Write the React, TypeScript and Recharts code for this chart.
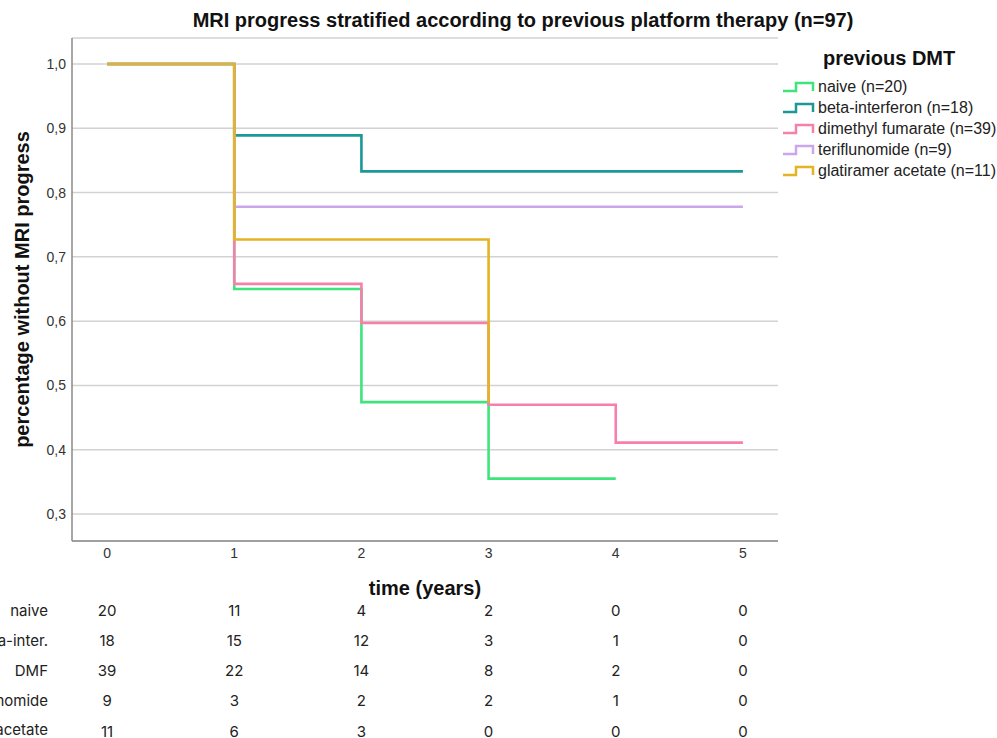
import React from 'react';
import { LineChart, Line, XAxis, YAxis, CartesianGrid, ComposedChart, Scatter } from 'recharts';

const seriesNames = ['naive (n=20)', 'beta-interferon (n=18)', 'dimethyl fumarate (n=39)', 'teriflunomide (n=9)', 'glatiramer acetate (n=11)'];
const seriesColors = ['#3fe47c', '#1c9898', '#f77fab', '#cca6ea', '#e3b424'];

const naiveTimes = [0, 1, 2, 3, 4];
const naiveSurv = [1.0, 0.65, 0.474, 0.355, 0.355];
const betaTimes = [0, 1, 2, 5];
const betaSurv = [1.0, 0.889, 0.833, 0.833];
const dmfTimes = [0, 1, 2, 3, 4, 5];
const dmfSurv = [1.0, 0.658, 0.597, 0.47, 0.411, 0.411];
const teriTimes = [0, 1, 5];
const teriSurv = [1.0, 0.778, 0.778];
const glatTimes = [0, 1, 3];
const glatSurv = [1.0, 0.727, 0.474];

const xTicks = [0, 1, 2, 3, 4, 5];
const yTicks = [0.3, 0.4, 0.5, 0.6, 0.7, 0.8, 0.9, 1.0];

const riskLabels = ['naive', 'beta-inter.', 'DMF', 'teriflunomide', 'glatiramer acetate'];
const riskNaive = [20, 11, 4, 2, 0, 0];
const riskBeta = [18, 15, 12, 3, 1, 0];
const riskDmf = [39, 22, 14, 8, 2, 0];
const riskTeri = [9, 3, 2, 2, 1, 0];
const riskGlat = [11, 6, 3, 0, 0, 0];

const toPts = (t: number[], s: number[]) => t.map((v, i) => ({ t: v, s: s[i] }));
const curves = [
  toPts(naiveTimes, naiveSurv),
  toPts(betaTimes, betaSurv),
  toPts(dmfTimes, dmfSurv),
  toPts(teriTimes, teriSurv),
  toPts(glatTimes, glatSurv),
];
const riskRows = [riskNaive, riskBeta, riskDmf, riskTeri, riskGlat];

const X_DOMAIN: [number, number] = [-0.276, 5.276];
const FONT = 'Arial, "Liberation Sans", sans-serif';
const TABLE_FONT = 'Inter, "Noto Sans", sans-serif';

const LegendBox = () => (
  <div style={{ position: 'absolute', left: 781, top: 45, width: 216, fontFamily: FONT }}>
    <div style={{ fontWeight: 'bold', fontSize: 20, color: '#111', marginLeft: 42, lineHeight: '26px', marginBottom: 5 }}>previous DMT</div>
    {seriesNames.map((n, i) => (
      <div key={n} style={{ display: 'flex', alignItems: 'center', height: 21 }}>
        <svg width={36} height={14} style={{ flex: 'none' }}>
          <path d="M2,11 H15 V3 H32 V11" fill="none" stroke={seriesColors[i]} strokeWidth={2.5} />
        </svg>
        <span style={{ fontSize: 16, color: '#222', whiteSpace: 'nowrap', marginLeft: 1 }}>{n}</span>
      </div>
    ))}
  </div>
);

const RiskCell = (p: any) => (
  <text x={p.cx} y={p.cy} textAnchor="middle" dominantBaseline="central" fontFamily={TABLE_FONT} fontSize={15} fill="#222">
    {p.payload.n}
  </text>
);

const RiskLabelTick = (p: any) => (
  <text x={48} y={p.y} textAnchor="end" dominantBaseline="central" fontFamily={TABLE_FONT} fontSize={15} fill="#222">
    {riskLabels[p.payload.value]}
  </text>
);

export default function App() {
  return (
    <div style={{ position: 'absolute', left: 0, top: 0, width: 997, height: 738, background: '#fff', overflow: 'hidden' }}>
      <div style={{ position: 'absolute', left: 0, width: 1046, top: 9, textAlign: 'center', fontFamily: FONT, fontWeight: 'bold', fontSize: 20, color: '#111', whiteSpace: 'nowrap' }}>
        MRI progress stratified according to previous platform therapy (n=97)
      </div>
      <div style={{ position: 'absolute', left: 0, top: 0 }}>
        <LineChart width={997} height={738} margin={{ top: 38, right: 219, left: 0, bottom: 167 }}>
          <CartesianGrid vertical={false} stroke="#d2d2d2" strokeWidth={1.5} />
          <XAxis
            dataKey="t"
            type="number"
            domain={X_DOMAIN}
            ticks={xTicks}
            allowDataOverflow
            tickLine={false}
            tickSize={6}
            tickMargin={1}
            stroke="#8a8a8a"
            strokeWidth={1.5}
            tick={{ fill: '#333', fontSize: 14, fontFamily: FONT }}
            label={{ value: 'time (years)', position: 'bottom', offset: 10, style: { fontFamily: FONT, fontWeight: 'bold', fontSize: 20, fill: '#111' } }}
          />
          <YAxis
            type="number"
            domain={[0.258, 1.0404]}
            ticks={yTicks}
            allowDataOverflow
            width={72}
            tickLine={false}
            tickSize={4}
            tickMargin={2}
            stroke="#8a8a8a"
            strokeWidth={1.5}
            tickFormatter={(v: number) => v.toFixed(1).replace('.', ',')}
            tick={{ fill: '#333', fontSize: 14, fontFamily: FONT }}
            label={{ value: 'percentage without MRI progress', angle: -90, position: 'center', dx: -14, style: { fontFamily: FONT, fontWeight: 'bold', fontSize: 20, fill: '#111', textAnchor: 'middle' } }}
          />
          {curves.map((d, i) => (
            <Line
              key={seriesNames[i]}
              data={d}
              dataKey="s"
              type="stepAfter"
              stroke={seriesColors[i]}
              strokeWidth={2.6}
              dot={false}
              activeDot={false}
              isAnimationActive={false}
              legendType="none"
            />
          ))}
        </LineChart>
      </div>
      <LegendBox />
      <div style={{ position: 'absolute', left: 0, top: 590 }}>
        <ComposedChart width={997} height={148} margin={{ top: 20, right: 219, left: 0, bottom: 7 }}>
          <XAxis dataKey="x" type="number" domain={X_DOMAIN} ticks={xTicks} hide allowDataOverflow />
          <YAxis
            dataKey="y"
            type="number"
            domain={[0, 4]}
            reversed
            ticks={[0, 1, 2, 3, 4]}
            width={72}
            axisLine={false}
            tickLine={false}
            tick={<RiskLabelTick />}
          />
          {riskRows.map((row, r) => (
            <Scatter
              key={riskLabels[r]}
              data={row.map((n, i) => ({ x: xTicks[i], y: r, n }))}
              shape={RiskCell}
              isAnimationActive={false}
            />
          ))}
        </ComposedChart>
      </div>
    </div>
  );
}
